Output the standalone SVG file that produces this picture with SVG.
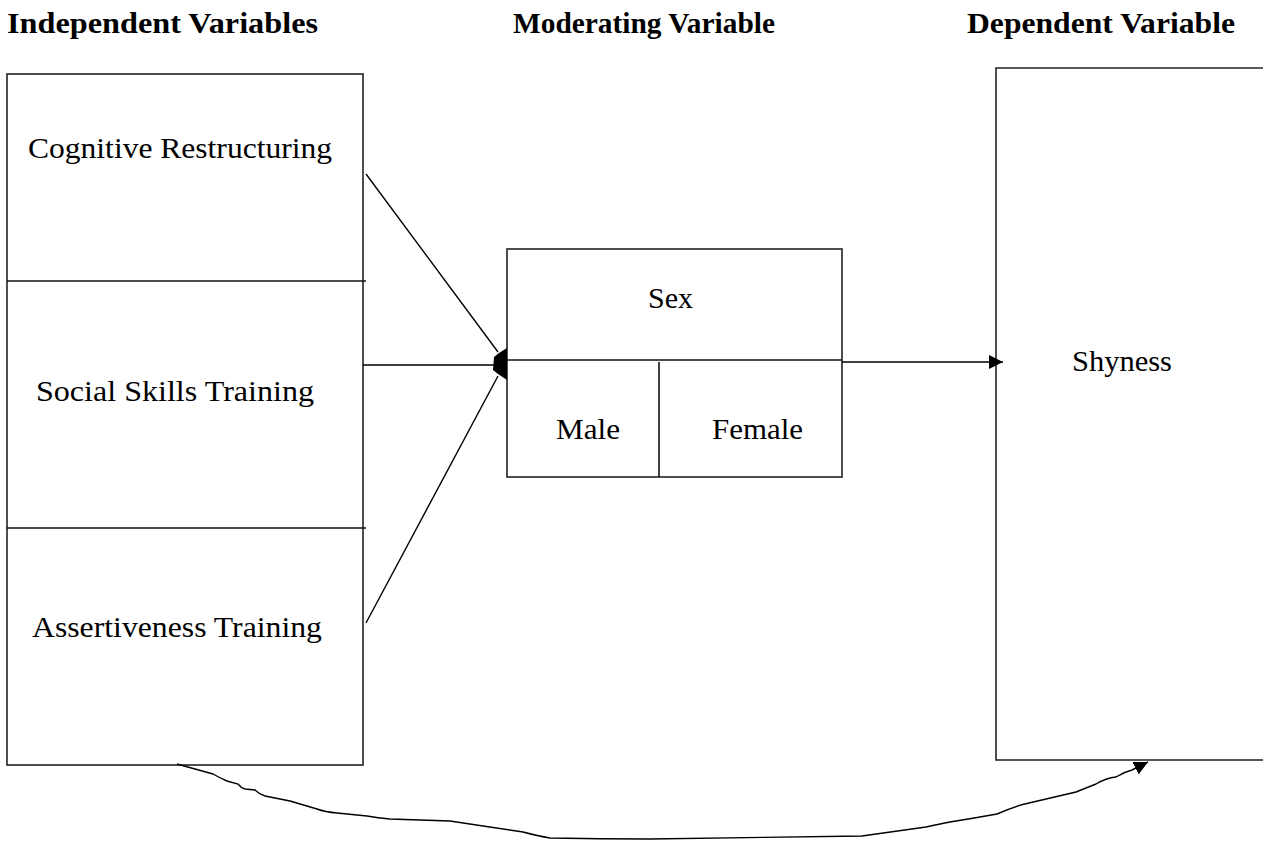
<svg xmlns="http://www.w3.org/2000/svg" width="1263" height="841" viewBox="0 0 1263 841">
<defs>
<style>
.box{fill:none;stroke:#222;stroke-width:1.6}
.div{stroke:#111;stroke-width:1.6}
.con{fill:none;stroke:#000;stroke-width:1.4}
.t{font-family:"Liberation Serif","Times New Roman",serif;font-size:30px;fill:#000}
.h{font-family:"Liberation Serif","Times New Roman",serif;font-size:30px;font-weight:bold;fill:#000}
</style>
<marker id="ah" markerUnits="userSpaceOnUse" markerWidth="16" markerHeight="16" refX="14" refY="7" orient="auto">
<path d="M0,0 L14,7 L0,14 Z" fill="#000"/>
</marker>
</defs>
<rect width="1263" height="841" fill="#fff"/>
<g id="headers">
<text class="h" x="7" y="33" textLength="311" lengthAdjust="spacingAndGlyphs">Independent Variables</text>
<text class="h" x="513" y="33" textLength="262" lengthAdjust="spacingAndGlyphs">Moderating Variable</text>
<text class="h" x="967" y="33" textLength="268" lengthAdjust="spacingAndGlyphs">Dependent Variable</text>
</g>
<g id="independent">
<rect class="box" x="7" y="74" width="356" height="691"/>
<line class="div" x1="7" y1="281" x2="366" y2="281"/>
<line class="div" x1="7" y1="528" x2="366" y2="528"/>
<text class="t" x="28" y="158" textLength="304" lengthAdjust="spacingAndGlyphs">Cognitive Restructuring</text>
<text class="t" x="36" y="401" textLength="278" lengthAdjust="spacingAndGlyphs">Social Skills Training</text>
<text class="t" x="32" y="637" textLength="290" lengthAdjust="spacingAndGlyphs">Assertiveness Training</text>
</g>
<g id="moderating">
<rect class="box" x="507" y="249" width="335" height="228"/>
<line class="div" x1="507" y1="360" x2="842" y2="360"/>
<line class="div" x1="659" y1="362" x2="659" y2="477"/>
<text class="t" x="648" y="308" textLength="45" lengthAdjust="spacingAndGlyphs">Sex</text>
<text class="t" x="556" y="439" textLength="64" lengthAdjust="spacingAndGlyphs">Male</text>
<text class="t" x="712" y="439" textLength="91" lengthAdjust="spacingAndGlyphs">Female</text>
</g>
<g id="dependent">
<path class="box" d="M1270,68 L996,68 L996,760 L1270,760"/>
<text class="t" x="1072" y="371" textLength="100" lengthAdjust="spacingAndGlyphs">Shyness</text>
</g>
<g id="connectors">
<line class="con" x1="366" y1="174" x2="498" y2="352"/>
<line class="con" x1="363" y1="365" x2="498" y2="365"/>
<line class="con" x1="366" y1="623" x2="498" y2="376"/>
<path d="M507,348 L499,353 L494,357 L493,370 L498,374 L507,380 Z" fill="#000"/>
<line class="con" x1="842" y1="362" x2="1003" y2="362" marker-end="url(#ah)"/>
<path class="con" stroke-width="1.6" d="M177,764 L213,774 Q220,778 227,781 L238,784 Q241,788 245,789 L255,790 Q259,794 265,796 L290,801 L317,809 Q325,812 337,813 L367,816 Q378,818 390,819 Q420,820 450,821 L483,826 L523,832 Q538,836 550,838 Q600,839 650,839 L862,836 L926,827 Q940,824 950,822 Q975,818 997,814 Q1015,806 1029,803 L1076,792 Q1086,788 1096,784 Q1106,778 1116,777 Q1124,772 1132,770 L1148,762" marker-end="url(#ah)"/>
</g>
</svg>
